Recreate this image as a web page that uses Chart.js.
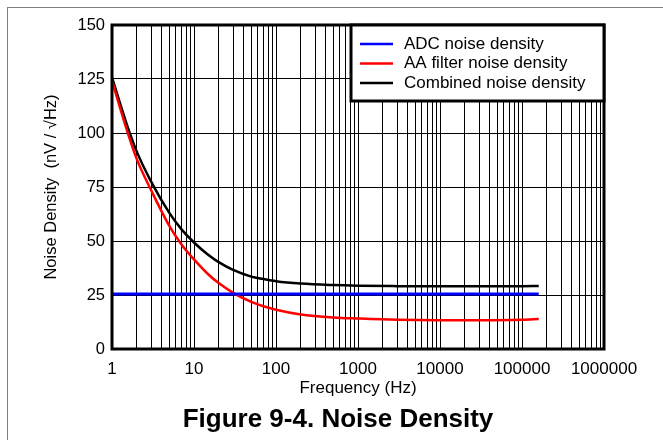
<!DOCTYPE html>
<html>
<head>
<meta charset="utf-8">
<script src="https://cdn.jsdelivr.net/npm/chart.js"></script>
<style>
html, body { margin: 0; padding: 0; background: #fff; overflow: hidden; }
#frame { position: absolute; left: 7px; top: 7px; width: 800px; height: 600px; border: 1px solid #7f7f7f; }
#wrap { position: absolute; left: 0; top: 0; width: 663px; height: 440px; }
</style>
</head>
<body>
<div id="frame"></div>
<div id="wrap"><canvas id="myChart" width="663" height="440"></canvas></div>
<script>
// values
let freq = [1, 1.5, 2, 3, 5, 7, 10, 15, 20, 30, 50, 70, 100, 200, 500, 1000, 3000, 10000, 30000, 100000, 160000];
let aaNoise = [124.2, 102, 88, 73.5, 57, 48.5, 41.5, 34.5, 30.5, 26, 21.8, 19.8, 18.2, 16, 14.6, 14.1, 13.5, 13.3, 13.3, 13.5, 13.85];
let combNoise = [125.7, 104.5, 91.5, 77.5, 63, 55.5, 49.3, 43.5, 40.2, 36.6, 33.5, 32.4, 31.4, 30.3, 29.6, 29.3, 29.1, 29.0, 29.0, 29.1, 29.2];
let adcFreq = [1, 160000];
let adcNoise = [25.5, 25.5];

let labels = ['ADC noise density', 'AA filter noise density', 'Combined noise density'];
let colors = ['#0000ff', '#ff0000', '#000000'];
let yTicks = [0, 25, 50, 75, 100, 125, 150];
let xTicks = [];
for (let d = 1; d <= 1000000; d *= 10) {
    for (let m = 1; m < 10; m++) {
        if (d * m <= 1000000) xTicks.push(d * m);
    }
}

const pts = (xs, ys) => xs.map((x, i) => ({ x: x, y: ys[i] }));

Chart.defaults.font.family = '"Liberation Sans", Arial, sans-serif';
Chart.defaults.color = '#000';

// legend box + plot frame + caption
const extras = {
    id: 'extras',
    afterDraw(chart) {
        const ctx = chart.ctx;
        const a = chart.chartArea;
        ctx.save();
        ctx.strokeStyle = '#000';
        ctx.lineWidth = 3;
        ctx.strokeRect(a.left, a.top, a.right - a.left, a.bottom - a.top);

        const bw = 253, bh = 76;
        const bx = a.right - bw, by = a.top;
        ctx.fillStyle = '#fff';
        ctx.fillRect(bx, by, bw, bh);
        ctx.strokeRect(bx, by, bw, bh);
        ctx.font = '17px "Liberation Sans", Arial, sans-serif';
        ctx.textBaseline = 'middle';
        ctx.textAlign = 'left';
        labels.forEach((t, i) => {
            const y = by + 19 + i * 19.5;
            ctx.strokeStyle = colors[i];
            ctx.lineWidth = 2.5;
            ctx.beginPath();
            ctx.moveTo(bx + 9, y);
            ctx.lineTo(bx + 42, y);
            ctx.stroke();
            ctx.fillStyle = '#000';
            ctx.fillText(t, bx + 53, y);
        });

        ctx.font = 'bold 26px "Liberation Sans", Arial, sans-serif';
        ctx.textAlign = 'center';
        ctx.fillText('Figure 9-4. Noise Density', 338, 420);
        ctx.restore();
    }
};

let myChart = document.getElementById('myChart').getContext('2d');

let chart1 = new Chart(myChart, {
    type: 'line',
    data: {
        datasets: [
            {
                label: labels[0],
                data: pts(adcFreq, adcNoise),
                borderColor: colors[0],
                borderWidth: 3,
                pointRadius: 0
            },
            {
                label: labels[1],
                data: pts(freq, aaNoise),
                borderColor: colors[1],
                borderWidth: 2.5,
                pointRadius: 0,
                cubicInterpolationMode: 'monotone'
            },
            {
                label: labels[2],
                data: pts(freq, combNoise),
                borderColor: colors[2],
                borderWidth: 2.5,
                pointRadius: 0,
                cubicInterpolationMode: 'monotone'
            }
        ]
    },
    options: {
        responsive: false,
        animation: false,
        layout: { padding: { top: 25, right: 59, bottom: 36, left: 0 } },
        plugins: {
            legend: { display: false },
            tooltip: { enabled: false }
        },
        scales: {
            x: {
                type: 'logarithmic',
                min: 1,
                max: 1000000,
                afterBuildTicks: (axis) => { axis.ticks = xTicks.map(v => ({ value: v })); },
                afterFit: (axis) => { axis.height = 55; },
                ticks: {
                    autoSkip: false,
                    maxRotation: 0,
                    padding: 10,
                    font: { size: 17 },
                    callback: (v) => {
                        const l = Math.log10(v);
                        return Math.abs(l - Math.round(l)) < 1e-9 ? String(v) : '';
                    }
                },
                grid: { color: '#000', lineWidth: 1, drawTicks: false },
                border: { display: false },
                title: {
                    display: true,
                    text: 'Frequency (Hz)',
                    font: { size: 17 },
                    padding: { top: 0, bottom: 5 }
                }
            },
            y: {
                min: 0,
                max: 150,
                afterBuildTicks: (axis) => { axis.ticks = yTicks.map(v => ({ value: v })); },
                afterFit: (axis) => { axis.width = 112; },
                ticks: { padding: 7, font: { size: 16.5 } },
                grid: { color: '#000', lineWidth: 1, drawTicks: false },
                border: { display: false },
                title: {
                    display: true,
                    text: 'Noise Density  (nV / \u221AHz)',
                    font: { size: 16.5 },
                    padding: { top: 42, bottom: 0 }
                }
            }
        }
    },
    plugins: [extras]
});
</script>
</body>
</html>
